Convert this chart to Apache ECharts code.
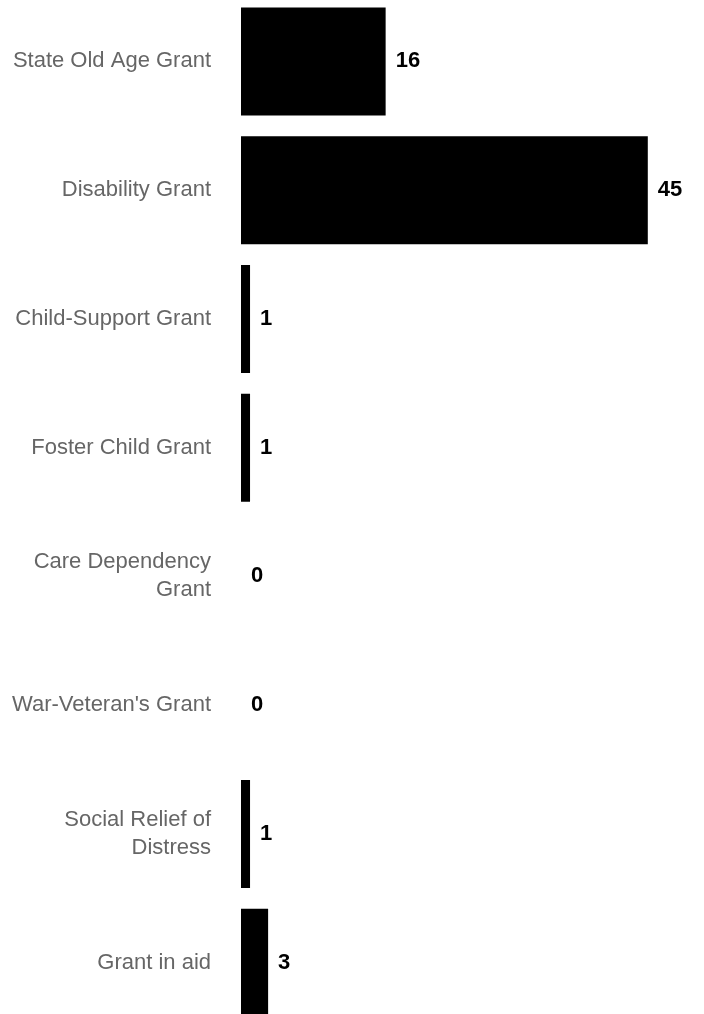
<!DOCTYPE html>
<html>
<head>
<meta charset="utf-8">
<script src="https://cdn.jsdelivr.net/npm/echarts@6/dist/echarts.min.js"></script>
<style>html,body{margin:0;padding:0;background:#fff;overflow:hidden;width:704px;height:1014px;}#c{position:absolute;left:0;top:-20px;width:704px;height:1060px;}</style>
</head>
<body>
<div id="c"></div>
<script>
const categories = [
  "State Old Age Grant",
  "Disability Grant",
  "Child-Support Grant",
  "Foster Child Grant",
  "Care Dependency\nGrant",
  "War-Veteran's Grant",
  "Social Relief of\nDistress",
  "Grant in aid"
];
const values = [16, 45, 1, 1, 0, 0, 1, 3];

const chart = echarts.init(document.getElementById('c'));
chart.setOption({
  animation: false,
  grid: { left: 241, width: 452, top: 17, height: 1030, containLabel: false },
  xAxis: { type: 'value', min: 0, max: 50, show: false },
  yAxis: {
    type: 'category', data: categories, inverse: true,
    axisLine: { show: false }, axisTick: { show: false }, splitLine: { show: false },
    axisLabel: { margin: 30, color: '#666666', fontSize: 22, fontFamily: 'Liberation Sans, Arial, sans-serif', lineHeight: 28, align: 'right', padding: [3, 0, 0, 0] }
  },
  series: [{
    type: 'bar', data: values, barWidth: 108,
    itemStyle: { color: '#000000' },
    label: { show: true, position: 'right', distance: 10, color: '#000', fontWeight: 'bold', fontSize: 22, fontFamily: 'Liberation Sans, Arial, sans-serif', padding: [3, 0, 0, 0] }
  }]
});
</script>
</body>
</html>
